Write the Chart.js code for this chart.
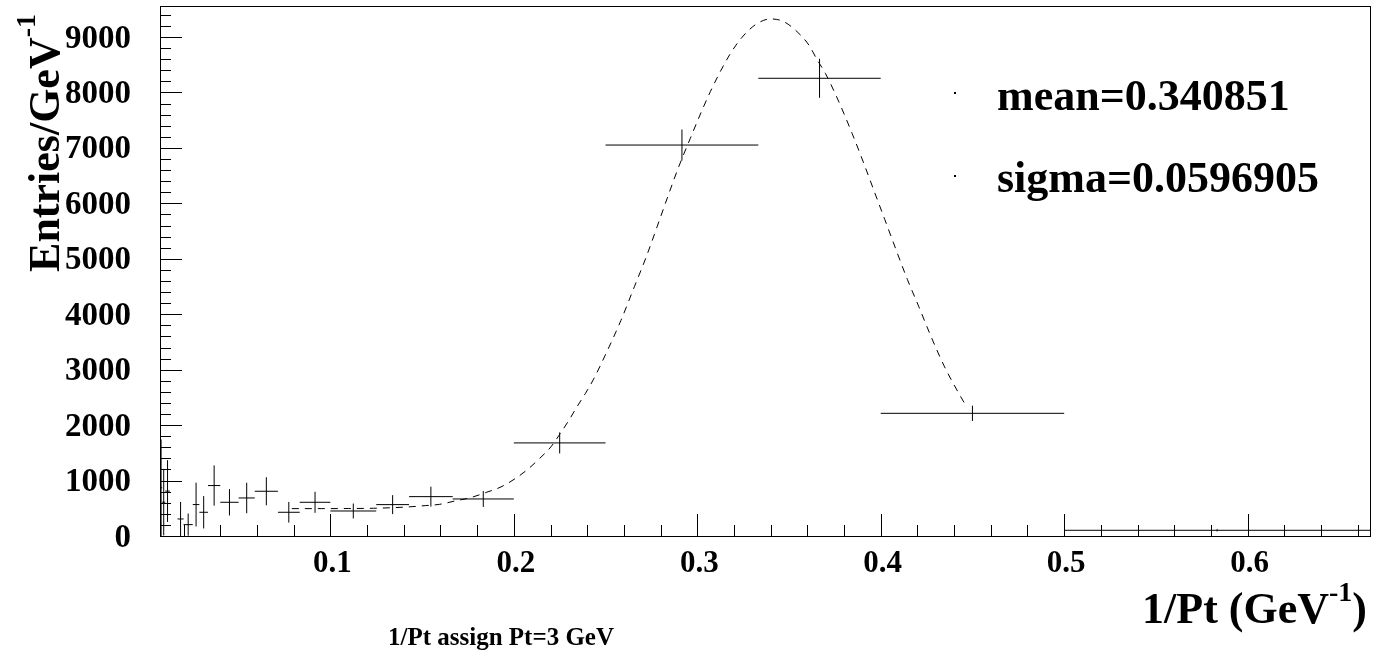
<!DOCTYPE html>
<html>
<head>
<meta charset="utf-8">
<title>1/Pt assign Pt=3 GeV</title>
<script src="https://cdn.jsdelivr.net/npm/chart.js@4.4.0/dist/chart.umd.min.js"></script>
<style>
  html, body { margin: 0; padding: 0; background: #fff; }
  #wrap { width: 1384px; height: 660px; }
</style>
</head>
<body>
<div id="wrap"><canvas id="chart" width="1384" height="660"></canvas></div>
<script>
// Histogram bins (1/Pt, GeV^-1): low edge, high edge, content, error
const binLo = [0.00714, 0.00833, 0.0100, 0.0167, 0.0200, 0.0250, 0.0286, 0.0333, 0.0400, 0.0500, 0.0588,
               0.0714, 0.0833, 0.1000, 0.1250, 0.1429, 0.1667, 0.2000, 0.2500, 0.3333, 0.4000, 0.5000];
const binHi = [0.00833, 0.0100, 0.0125, 0.0200, 0.0250, 0.0286, 0.0333, 0.0400, 0.0500, 0.0588, 0.0714,
               0.0833, 0.1000, 0.1250, 0.1429, 0.1667, 0.2000, 0.2500, 0.3333, 0.4000, 0.5000, 0.6667];
const binValues = [870, 610, 810, 307, 205, 567, 428, 910, 608, 686, 807,
                   428, 608, 451, 566, 710, 668, 1679, 7052, 8256, 2213, 103];
const binErrors = [870, 600, 557, 307, 200, 395, 292, 363, 238, 275, 253,
                   186, 190, 135, 171, 180, 144, 190, 280, 352, 138, 20];

// Fit curve (dashed line)
const fitX = [0.079, 0.095, 0.110, 0.1235, 0.1417, 0.1517, 0.1595, 0.168, 0.1762, 0.1853, 0.193, 0.2008,
              0.2075, 0.214, 0.2202, 0.2253, 0.2299, 0.2344, 0.239, 0.2435, 0.2508, 0.2584, 0.2657, 0.2722,
              0.2781, 0.2839, 0.2899, 0.2962, 0.3026, 0.3072, 0.3126, 0.318, 0.3244, 0.3317, 0.3399, 0.3471,
              0.3544, 0.3608, 0.3654, 0.3699, 0.3772, 0.3844, 0.3905, 0.3962, 0.4022, 0.408, 0.4145, 0.4208,
              0.4275, 0.4348, 0.4426, 0.4463];
const fitY = [494, 494, 496, 500, 523, 548, 571, 632, 690, 790, 885, 1036,
              1200, 1397, 1607, 1848, 2080, 2329, 2570, 2830, 3330, 3890, 4495, 5036,
              5578, 6119, 6661, 7173, 7680, 8020, 8380, 8700, 8995, 9222, 9327, 9278,
              9097, 8857, 8587, 8340, 7830, 7262, 6745, 6240, 5710, 5195, 4630, 4134,
              3592, 3051, 2570, 2359];

// Axis ticks and labels
const xTicks = [0.1, 0.2, 0.3, 0.4, 0.5, 0.6];
const xTickLabels = ["0.1", "0.2", "0.3", "0.4", "0.5", "0.6"];
const yTicks = [0, 1000, 2000, 3000, 4000, 5000, 6000, 7000, 8000, 9000];
const yTickLabels = ["0", "1000", "2000", "3000", "4000", "5000", "6000", "7000", "8000", "9000"];
const legendLines = ["mean=0.340851", "sigma=0.0596905"];

const X_MIN = 0.00714, X_MAX = 0.6667, Y_MAX = 9560;
const FONT = "'Liberation Serif', 'Times New Roman', serif";

// Build segment data (null breaks the line between bins)
const hData = [];
const vData = [];
binValues.forEach((v, i) => {
  const c = (binLo[i] + binHi[i]) / 2;
  hData.push({ x: binLo[i], y: v }, { x: binHi[i], y: v }, { x: binHi[i], y: null });
  vData.push({ x: c, y: v - binErrors[i] }, { x: c, y: v + binErrors[i] }, { x: c, y: null });
});
const fitData = fitX.map((x, i) => ({ x: x, y: fitY[i] }));

// ROOT-like frame, inward ticks, labels and titles
const rootFrame = {
  id: "rootFrame",
  afterDraw(chart) {
    const ctx = chart.ctx;
    const xs = chart.scales.x;
    const ys = chart.scales.y;
    const a = chart.chartArea;
    ctx.save();
    ctx.strokeStyle = "#000";
    ctx.fillStyle = "#000";
    ctx.lineWidth = 1;

    // frame
    ctx.strokeRect(Math.round(a.left) + 0.5, Math.round(a.top) + 0.5,
                   Math.round(a.right - a.left), Math.round(a.bottom - a.top));

    // x ticks (major every 0.1, minor every 0.02)
    ctx.beginPath();
    for (let k = 1; k * 0.02 < X_MAX; k++) {
      const px = Math.round(xs.getPixelForValue(k * 0.02)) + 0.5;
      const len = (k % 5 === 0) ? 22 : 11;
      ctx.moveTo(px, a.bottom);
      ctx.lineTo(px, a.bottom - len);
    }
    // y ticks (major every 1000, minor every 200)
    for (let k = 1; k * 200 < Y_MAX; k++) {
      const py = Math.round(ys.getPixelForValue(k * 200)) + 0.5;
      const len = (k % 5 === 0) ? 22 : 11;
      ctx.moveTo(a.left, py);
      ctx.lineTo(a.left + len, py);
    }
    ctx.stroke();

    // tick labels
    ctx.font = "bold 31px " + FONT;
    ctx.textAlign = "center";
    ctx.textBaseline = "alphabetic";
    xTicks.forEach((t, i) => {
      ctx.fillText(xTickLabels[i], xs.getPixelForValue(t) + 2, 572);
    });
    ctx.font = "bold 33px " + FONT;
    ctx.textAlign = "right";
    ctx.textBaseline = "middle";
    yTicks.forEach((t, i) => {
      ctx.fillText(yTickLabels[i], 131, ys.getPixelForValue(t) + 2);
    });

    // x axis title: 1/Pt (GeV^-1), right aligned
    ctx.textBaseline = "alphabetic";
    ctx.textAlign = "left";
    ctx.font = "bold 44px " + FONT;
    const main = "1/Pt (GeV";
    const close = ")";
    const wMain = ctx.measureText(main).width;
    const wClose = ctx.measureText(close).width;
    ctx.font = "bold 28px " + FONT;
    const wSup = ctx.measureText("-1").width;
    const x0 = 1367 - wClose - wSup - wMain;
    ctx.font = "bold 44px " + FONT;
    ctx.fillText(main, x0, 623);
    ctx.font = "bold 28px " + FONT;
    ctx.fillText("-1", x0 + wMain, 601);
    ctx.font = "bold 44px " + FONT;
    ctx.fillText(close, x0 + wMain + wSup, 623);

    // y axis title: Entries/GeV^-1, rotated
    ctx.save();
    ctx.translate(59, 0);
    ctx.rotate(-Math.PI / 2);
    ctx.font = "bold 28px " + FONT;
    const wSupY = ctx.measureText("-1").width;
    ctx.textAlign = "right";
    ctx.font = "bold 44px " + FONT;
    ctx.fillText("Entries/GeV", -14 - wSupY, 0);
    ctx.textAlign = "left";
    ctx.font = "bold 28px " + FONT;
    ctx.fillText("-1", -14 - wSupY, -24);
    ctx.restore();

    // bottom title
    ctx.font = "bold 25px " + FONT;
    ctx.textAlign = "center";
    ctx.fillText("1/Pt assign Pt=3 GeV", 501, 645);

    // fit parameters box (markers + text)
    ctx.fillRect(954, 92, 2, 2);
    ctx.fillRect(954, 175, 2, 2);
    ctx.font = "bold 44px " + FONT;
    ctx.textAlign = "left";
    ctx.fillText(legendLines[0], 997, 110);
    ctx.fillText(legendLines[1], 997, 192);

    ctx.restore();
  }
};

const ctx = document.getElementById("chart").getContext("2d");
const chart = new Chart(ctx, {
  type: "line",
  data: {
    datasets: [
      {
        label: "bins",
        data: hData,
        borderColor: "#000",
        borderWidth: 1,
        pointRadius: 0,
        spanGaps: false
      },
      {
        label: "errors",
        data: vData,
        borderColor: "#000",
        borderWidth: 1,
        pointRadius: 0,
        spanGaps: false
      },
      {
        label: "fit",
        data: fitData,
        borderColor: "#000",
        borderWidth: 1,
        borderDash: [7, 6],
        pointRadius: 0,
        cubicInterpolationMode: "monotone"
      }
    ]
  },
  options: {
    responsive: false,
    animation: false,
    devicePixelRatio: 1,
    events: [],
    layout: { padding: { left: 160, right: 14, top: 6, bottom: 124 } },
    plugins: {
      legend: { display: false },
      tooltip: { enabled: false }
    },
    scales: {
      x: { type: "linear", min: X_MIN, max: X_MAX, display: false },
      y: { type: "linear", min: 0, max: Y_MAX, display: false }
    }
  },
  plugins: [rootFrame]
});
</script>
</body>
</html>
